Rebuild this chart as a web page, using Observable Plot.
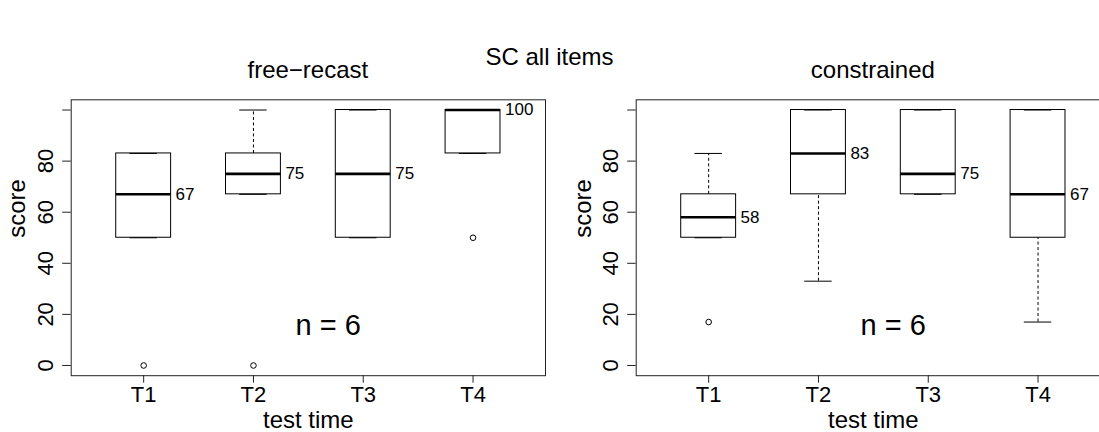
<!DOCTYPE html>
<html>
<head>
<meta charset="utf-8">
<script src="https://cdn.jsdelivr.net/npm/d3@7"></script>
<script src="https://cdn.jsdelivr.net/npm/@observablehq/plot@0.6"></script>
<style>
  body { margin: 0; background: #fff; }
  #chart {
    position: relative; width: 1099px; height: 432px; overflow: hidden;
    font-family: "Liberation Sans", Arial, Helvetica, sans-serif; color: #000;
  }
  .title {
    position: absolute; white-space: nowrap; transform: translateX(-50%);
    font-size: 24px; line-height: 24px;
  }
  .panel { position: absolute; top: 85px; }
  .panel svg { max-width: none !important; }
</style>
</head>
<body>
<div id="chart"></div>
<script>
// Test times and axis ticks
const categories = ["T1", "T2", "T3", "T4"];
const yTicks = [0, 20, 40, 60, 80, 100];
const mainTitle = "SC all items";
const panelTitles = ["free−recast", "constrained"];
const sampleSize = 6;

// free-recast: box-plot statistics per test time
const freeLower  = [50, 67, 50, 83];
const freeQ1     = [50, 67, 50, 83];
const freeMedian = [67, 75, 75, 100];
const freeQ3     = [83, 83, 100, 100];
const freeUpper  = [83, 100, 100, 100];
const freeOutlierTime  = ["T1", "T2", "T4"];
const freeOutlierScore = [0, 0, 50];

// constrained: box-plot statistics per test time
const constrainedLower  = [50, 33, 67, 17];
const constrainedQ1     = [50, 67, 67, 50];
const constrainedMedian = [58, 83, 75, 67];
const constrainedQ3     = [67, 100, 100, 100];
const constrainedUpper  = [83, 100, 100, 100];
const constrainedOutlierTime  = ["T1"];
const constrainedOutlierScore = [17];

const FONT = "'Liberation Sans', Arial, Helvetica, sans-serif";

function buildRows(lower, q1, median, q3, upper) {
  return categories.map((time, i) => ({
    time, pos: i + 1, lower: lower[i], q1: q1[i], median: median[i], q3: q3[i], upper: upper[i]
  }));
}
function buildOutliers(times, scores) {
  return times.map((time, i) => ({ time, pos: categories.indexOf(time) + 1, score: scores[i] }));
}

const HALF_BOX = 0.25, HALF_STAPLE = 0.125;

function boxPanel(rows, outliers, { width, marginLeft, marginRight }) {
  return Plot.plot({
    width, height: 347,
    marginLeft, marginRight, marginTop: 14.3, marginBottom: 56.8,
    x: { domain: [0.34, 4.66], axis: null },
    y: { domain: [-4, 104], axis: null },
    style: { fontFamily: FONT, fontSize: "22px", color: "#000", background: "transparent", overflow: "visible", maxWidth: "none" },
    marks: [
      Plot.frame({ stroke: "#222", strokeWidth: 1 }),
      Plot.axisX({
        ticks: [1, 2, 3, 4], tickFormat: d => categories[d - 1],
        tickSize: 7.5, tickPadding: 3, fontSize: 22, stroke: "#222", label: null
      }),
      Plot.axisY({
        ticks: yTicks, tickFormat: d => (d === 100 ? "" : String(d)),
        tickSize: 8.5, tickRotate: -90, tickPadding: 10, fontSize: 22, stroke: "#222", label: null
      }),
      Plot.text(["score"], {
        frameAnchor: "left", rotate: -90, dx: -45.7, lineAnchor: "bottom", fontSize: 24
      }),
      Plot.text(["test time"], {
        frameAnchor: "bottom", dy: 52.3, lineAnchor: "bottom", fontSize: 24
      }),
      // dashed whiskers
      Plot.ruleX(rows, { x: "pos", y1: "q3", y2: "upper", stroke: "#000", strokeDasharray: "3,2.5" }),
      Plot.ruleX(rows, { x: "pos", y1: "lower", y2: "q1", stroke: "#000", strokeDasharray: "3,2.5" }),
      // whisker staples
      Plot.ruleY(rows, { y: "upper", x1: d => d.pos - HALF_STAPLE, x2: d => d.pos + HALF_STAPLE, stroke: "#000" }),
      Plot.ruleY(rows, { y: "lower", x1: d => d.pos - HALF_STAPLE, x2: d => d.pos + HALF_STAPLE, stroke: "#000" }),
      // boxes
      Plot.rect(rows, {
        x1: d => d.pos - HALF_BOX, x2: d => d.pos + HALF_BOX, y1: "q1", y2: "q3",
        fill: "none", stroke: "#000", strokeWidth: 1
      }),
      // medians
      Plot.ruleY(rows, { y: "median", x1: d => d.pos - HALF_BOX, x2: d => d.pos + HALF_BOX, stroke: "#000", strokeWidth: 2.6 }),
      Plot.text(rows, {
        x: d => d.pos + HALF_BOX, y: "median", text: d => String(d.median),
        textAnchor: "start", dx: 4.5, fontSize: 17
      }),
      // outliers
      Plot.dot(outliers, { x: "pos", y: "score", r: 2.8, stroke: "#000", fill: "none", strokeWidth: 1 }),
      // sample size note
      Plot.text([`n = ${sampleSize}`], { x: 2.68, y: 15.5, fontSize: 29 })
    ]
  });
}

const chart = document.getElementById("chart");

function addTitle(text, centerX, top) {
  const div = document.createElement("div");
  div.className = "title";
  div.textContent = text;
  div.style.left = centerX + "px";
  div.style.top = top + "px";
  chart.appendChild(div);
}

addTitle(mainTitle, 549.5, 44.7);
addTitle(panelTitles[0], 307.85, 57.7);
addTitle(panelTitles[1], 872.85, 57.7);

function addPanel(svg, left, width) {
  const holder = document.createElement("div");
  holder.className = "panel";
  holder.style.left = left + "px";
  holder.style.width = width + "px";
  holder.appendChild(svg);
  chart.appendChild(holder);
}

addPanel(boxPanel(
  buildRows(freeLower, freeQ1, freeMedian, freeQ3, freeUpper),
  buildOutliers(freeOutlierTime, freeOutlierScore),
  { width: 560, marginLeft: 70.7, marginRight: 15 }
), 0, 560);

addPanel(boxPanel(
  buildRows(constrainedLower, constrainedQ1, constrainedMedian, constrainedQ3, constrainedUpper),
  buildOutliers(constrainedOutlierTime, constrainedOutlierScore),
  { width: 570, marginLeft: 75.7, marginRight: 20 }
), 560, 570);
</script>
</body>
</html>
